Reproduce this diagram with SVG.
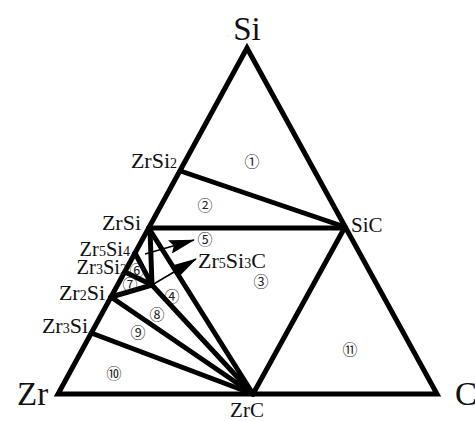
<svg xmlns="http://www.w3.org/2000/svg" width="475" height="421" viewBox="0 0 475 421">
<style>
.ln{fill:none;stroke:#000;stroke-width:5;stroke-linejoin:miter;stroke-linecap:round}
.thin{fill:none;stroke:#000;stroke-width:1.6}
.big{font-family:"Liberation Serif","Times New Roman",serif;font-size:33px;fill:#111}
.lab{font-family:"Liberation Serif","Times New Roman",serif;font-size:22px;fill:#111}
.sm{font-size:20.5px}
.sub{font-size:14px}
.num{font-family:"Noto Sans CJK JP","DejaVu Sans",sans-serif;font-size:15px;fill:#222;text-anchor:middle;dominant-baseline:central}
</style>
<defs>
<marker id="ah" markerWidth="26" markerHeight="14" refX="25" refY="7" orient="auto" markerUnits="userSpaceOnUse">
<path d="M0,0 L26,7 L0,14 L4,7 Z" fill="#000"/>
</marker>
</defs>
<rect width="475" height="421" fill="#fff"/>
<g id="connectors">
<polygon class="ln" points="247,48 58,394 437,394"/>
<line class="ln" x1="180.5" y1="171" x2="345" y2="227"/>
<line class="ln" x1="148.7" y1="228" x2="345" y2="228"/>
<line class="ln" x1="345" y1="227" x2="253" y2="394"/>
<line class="ln" x1="148.7" y1="228" x2="253" y2="394"/>
<line class="ln" x1="150" y1="230" x2="152" y2="285"/>
<line class="ln" x1="135" y1="253" x2="152" y2="285"/>
<line class="ln" x1="125" y1="272" x2="152" y2="285"/>
<line class="ln" x1="111" y1="297" x2="152" y2="285"/>
<line class="ln" x1="152" y1="285" x2="253" y2="394"/>
<line class="ln" x1="111" y1="297" x2="253" y2="394"/>
<line class="ln" x1="91.3" y1="333" x2="253" y2="394"/>
<line class="thin" x1="145" y1="254" x2="194" y2="240" marker-end="url(#ah)"/>
<line class="thin" x1="152" y1="285" x2="196" y2="259" marker-end="url(#ah)"/>
</g>
<g id="node-Si"><text class="big" x="247" y="40" text-anchor="middle">Si</text></g>
<g id="node-Zr"><text class="big" x="17" y="405">Zr</text></g>
<g id="node-C"><text class="big" x="455" y="405">C</text></g>
<g id="node-ZrC"><text class="lab" x="247" y="417" text-anchor="middle" style="font-size:21px">ZrC</text></g>
<g id="node-SiC"><text class="lab" x="351" y="232" style="font-size:21px">SiC</text></g>
<g id="node-ZrSi2"><text class="lab" x="177" y="168" text-anchor="end">ZrSi<tspan class="sub">2</tspan></text></g>
<g id="node-ZrSi"><text class="lab" x="141" y="230" text-anchor="end">ZrSi</text></g>
<g id="node-Zr5Si4"><text class="lab sm" x="130" y="256" text-anchor="end">Zr<tspan class="sub">5</tspan>Si<tspan class="sub">4</tspan></text></g>
<g id="node-Zr3Si2"><text class="lab sm" x="127" y="274" text-anchor="end">Zr<tspan class="sub">3</tspan>Si<tspan class="sub">2</tspan></text></g>
<g id="node-Zr2Si"><text class="lab" x="105" y="300" text-anchor="end">Zr<tspan class="sub">2</tspan>Si</text></g>
<g id="node-Zr3Si"><text class="lab" x="88" y="333" text-anchor="end">Zr<tspan class="sub">3</tspan>Si</text></g>
<g id="node-Zr5Si3C"><text class="lab" x="198" y="268">Zr<tspan class="sub">5</tspan>Si<tspan class="sub">3</tspan>C</text></g>
<g id="regions">
<text class="num" x="252" y="160">①</text>
<text class="num" x="205" y="204">②</text>
<text class="num" x="261" y="280">③</text>
<text class="num" x="172" y="295">④</text>
<text class="num" x="205" y="238.5">⑤</text>
<text class="num" x="137" y="269">⑥</text>
<text class="num" x="130" y="283.5">⑦</text>
<text class="num" x="157" y="313">⑧</text>
<text class="num" x="138" y="331.5">⑨</text>
<text class="num" x="114" y="372">⑩</text>
<text class="num" x="350" y="348">⑪</text>
</g>
</svg>
